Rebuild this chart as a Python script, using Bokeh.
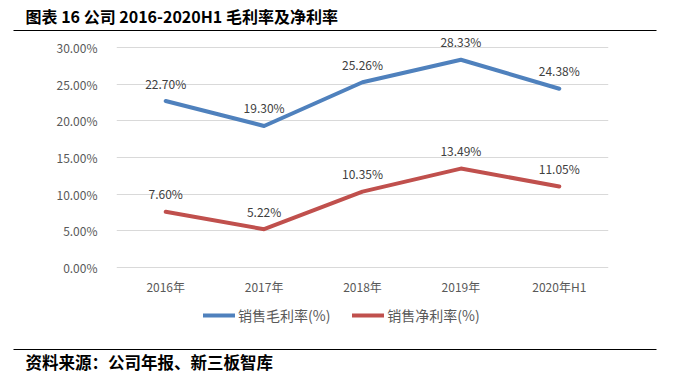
from bokeh.plotting import figure
from bokeh.models import (ColumnDataSource, Range1d, LabelSet, Legend, LegendItem,
                          NumeralTickFormatter, FixedTicker)
from bokeh.core.properties import value
from bokeh.embed import file_html
from bokeh.resources import INLINE

# ---- data ----
categories = ["2016年", "2017年", "2018年", "2019年", "2020年H1"]
gross_margin = [0.2270, 0.1930, 0.2526, 0.2833, 0.2438]
net_margin = [0.0760, 0.0522, 0.1035, 0.1349, 0.1105]
y_ticks = [0.0, 0.05, 0.10, 0.15, 0.20, 0.25, 0.30]
series_names = ["销售毛利率(%)", "销售净利率(%)"]
title_text = "图表 16  公司 2016-2020H1 毛利率及净利率"
source_text = "资料来源：公司年报、新三板智库"

FONT = "Noto Sans CJK SC"
BLUE = "#4F81BD"
RED = "#C0504D"
W, H = 680, 380
FL, FR, FT, FB = 116, 608, 30, 330      # plot frame in pixels
ZERO_PX, TOP_PX = 267, 47               # pixel rows of 0% and 30%
PX_PER_UNIT = (ZERO_PX - TOP_PX) / 0.30

xpos = list(range(len(categories)))
p = figure(width=W, height=H, output_backend="svg", toolbar_location=None,
           x_range=Range1d(-0.5, len(categories) - 0.5),
           y_range=Range1d(-(FB - ZERO_PX) / PX_PER_UNIT, 0.30 + (TOP_PX - FT) / PX_PER_UNIT),
           min_border_left=FL, min_border_right=W - FR, min_border_top=FT,
           min_border_bottom=H - FB)
p.outline_line_color = None
p.xgrid.visible = False
p.ygrid.grid_line_color = "#D9D9D9"
p.ygrid.grid_line_width = 1
p.xaxis.ticker = FixedTicker(ticks=xpos)
p.xaxis.major_label_overrides = {i: c for i, c in zip(xpos, categories)}
p.xaxis.fixed_location = 0
p.yaxis.ticker = FixedTicker(ticks=y_ticks)
p.yaxis.formatter = NumeralTickFormatter(format="0.00%")
for ax in (p.xaxis[0], p.yaxis[0]):
    ax.axis_line_color = None
    ax.major_tick_line_color = None
    ax.minor_tick_line_color = None
    ax.major_label_text_font = FONT
    ax.major_label_text_font_size = "12px"
    ax.major_label_text_color = "#595959"
p.yaxis.major_label_standoff = 13
p.xaxis.major_label_standoff = 4

src = ColumnDataSource(dict(
    x=xpos, g=gross_margin, n=net_margin,
    gl=[f"{v*100:.2f}%" for v in gross_margin],
    nl=[f"{v*100:.2f}%" for v in net_margin],
))
r1 = p.line("x", "g", source=src, line_color=BLUE, line_width=4, line_cap="round", line_join="round")
r2 = p.line("x", "n", source=src, line_color=RED, line_width=4, line_cap="round", line_join="round")
for col, lab in (("g", "gl"), ("n", "nl")):
    p.add_layout(LabelSet(x="x", y=col, text=lab, source=src, y_offset=18,
                          text_align="center", text_baseline="middle",
                          text_font=value(FONT), text_font_size="12px", text_color="#404040"))

legend = Legend(items=[LegendItem(label=series_names[0], renderers=[r1]),
                       LegendItem(label=series_names[1], renderers=[r2])],
                orientation="horizontal", location=(87, 5),
                glyph_width=32, glyph_height=16, label_height=16, label_standoff=3,
                spacing=22, padding=0, margin=0,
                border_line_color=None, background_fill_alpha=0,
                label_text_font=FONT, label_text_font_size="14px", label_text_color="#595959")
p.add_layout(legend, "center")

# page decorations in pixel coordinates (extra ranges mapped onto the frame)
p.extra_x_ranges = {"px": Range1d(FL, FR)}
p.extra_y_ranges = {"py": Range1d(FB, FT)}
deco = dict(x_range_name="px", y_range_name="py", level="overlay")
p.text(x=[25], y=[15], text=[title_text], text_font=value(FONT), text_font_style="bold",
       text_font_size="16px", text_color="#000000", text_baseline="middle", **deco)
p.segment(x0=[13, 13], y0=[30, 349], x1=[656, 656], y1=[30, 349],
          line_color="#000000", line_width=1, **deco)
p.text(x=[25], y=[361], text=[source_text], text_font=value(FONT), text_font_style="bold",
       text_font_size="16.5px", text_color="#000000", text_baseline="middle", **deco)

open("out.html", "w").write(file_html(p, INLINE))
